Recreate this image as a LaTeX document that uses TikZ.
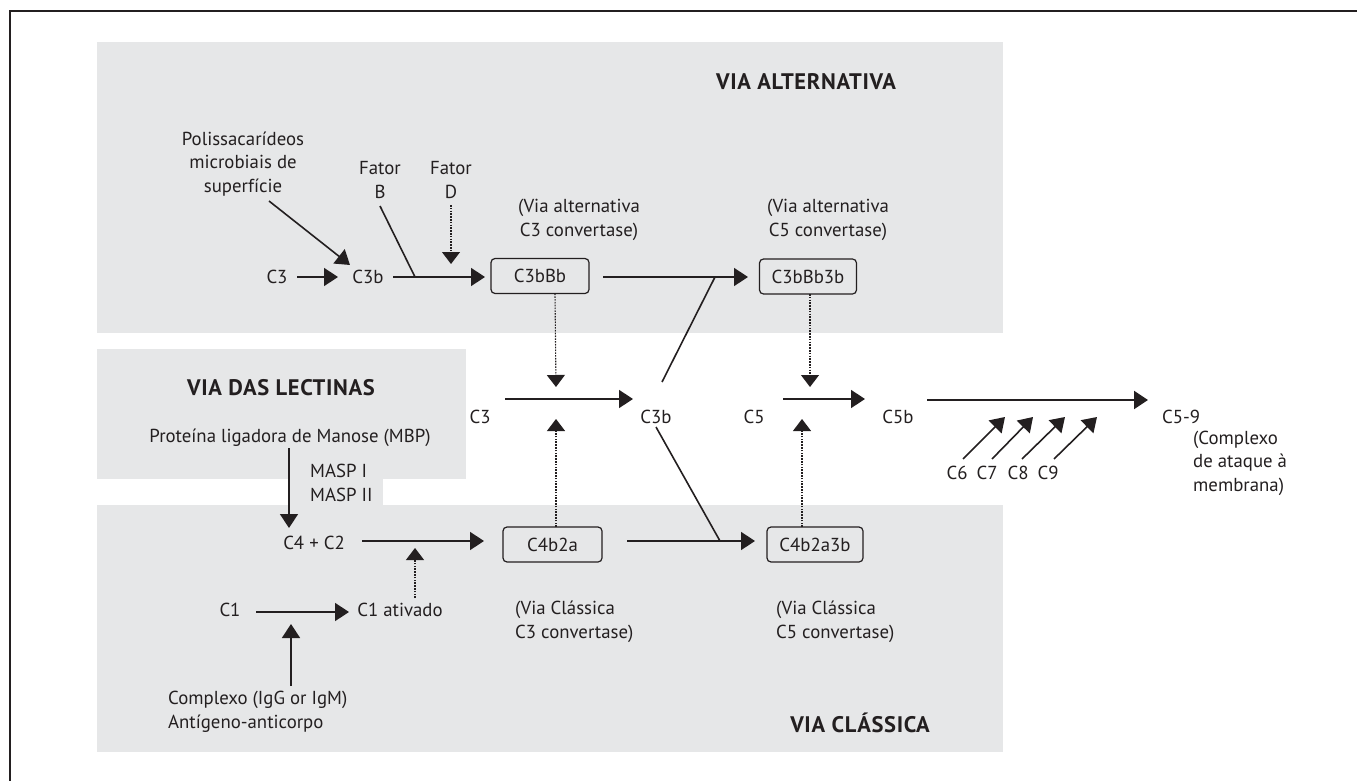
\documentclass[tikz,border=0pt]{standalone}
\usepackage{fontspec}
\setmainfont{PT Sans}
\newfontfamily\ttlfont[LetterSpace=3]{PT Sans Bold}
\usetikzlibrary{arrows.meta}
\definecolor{gfill}{HTML}{E6E7E8}
\definecolor{ink}{HTML}{231F20}
\begin{document}
\begin{tikzpicture}[x=1pt,y=-1pt,
  every node/.style={font=\fontsize{18.8}{23.5}\selectfont, text=ink, inner sep=0pt},
  lab/.style={text height=13.2pt, text depth=0pt},
  title/.style={font=\fontsize{22.5}{26}\selectfont\ttlfont, text height=15.7pt, text depth=0pt},
  cbox/.style={draw=ink, line width=1.2pt, rounded corners=4pt, minimum height=35pt, text height=13.2pt, text depth=0pt},
  ln/.style={draw=ink, line width=1.6pt},
  arr/.style={ln, -{Triangle[length=14pt,width=18pt]}},
  dot/.style={draw=ink, line width=1.1pt, dash pattern=on 1.6pt off 1.2pt},
  darr/.style={dot, -{Triangle[length=12pt,width=18pt]}}
]
\useasboundingbox (0,0) rectangle (1357,781);
% frame
\draw[ink, line width=2pt] (10,781) -- (10,11) -- (1357,11);
% gray areas
\fill[gfill] (97,42) rectangle (1003,333);
\fill[gfill] (97,349) rectangle (466,479);
\fill[gfill] (290,479) rectangle (383,505);
\fill[gfill] (97,505) rectangle (1003,752);

% ---- via alternativa
\node[title] (tAlt) at (806,82) {VIA ALTERNATIVA};
\node[align=center] (pol) at (243,164) {Polissacarídeos\\microbiais de\\superfície};
\node[align=center] (fB) at (380,180) {Fator\\B};
\node[align=center] (fD) at (451,180) {Fator\\D};
\node[align=center] (cv3) at (579,220) {(Via alternativa\\C3 convertase)};
\node[align=center] (cv5) at (828,220) {(Via alternativa\\C5 convertase)};
\node[lab] (c3a) at (277,277) {C3};
\node[lab] (c3b1) at (368,277) {C3b};
\node[cbox, minimum width=98pt] (bxA) at (540,276) {C3bBb};
\node[cbox, minimum width=97pt] (bxB) at (808,276.5) {C3bBb3b};

% ---- lectinas
\node[title] (tLec) at (281,388) {VIA DAS LECTINAS};
\node[lab] (mbp) at (290,436) {Proteína ligadora de Manose (MBP)};
\node[align=left, anchor=west] (masp) at (310,483) {MASP I\\MASP II};

% ---- middle row
\node[lab] (c3m) at (480,417) {C3};
\node[lab] (c3bm) at (656,417) {C3b};
\node[lab] (c5) at (754,417) {C5};
\node[lab] (c5b) at (898,417) {C5b};
\node[lab, anchor=west] (c59) at (1162,417) {C5-9};
\node[align=left, anchor=west] (cmplx) at (1193,463) {(Complexo\\de ataque à\\membrana)};
\node[lab] (c6) at (957,473) {C6};
\node[lab] (c7) at (987,473) {C7};
\node[lab] (c8) at (1018,473) {C8};
\node[lab] (c9) at (1048,473) {C9};

% ---- via classica
\node[lab] (c4c2) at (314,543) {C4 + C2};
\node[cbox, minimum width=99pt] (bxC) at (552.5,544.5) {C4b2a};
\node[cbox, minimum width=96pt] (bxD) at (815,544.5) {C4b2a3b};
\node[lab] (c1) at (230,610) {C1};
\node[lab] (c1a) at (400,610) {C1 ativado};
\node[align=left, anchor=west] (cvc3) at (515,622) {(Via Clássica\\C3 convertase)};
\node[align=left, anchor=west] (cvc5) at (776,622) {(Via Clássica\\C5 convertase)};
\node[align=left, anchor=west] (cplx) at (168,712) {Complexo (IgG or IgM)\\Antígeno-anticorpo};
\node[title] (tCla) at (860,725) {VIA CLÁSSICA};

% ---- junction coordinates
\coordinate (jB) at (415,277);
\coordinate (jD) at (451,264);
\coordinate (sA) at (603,277);
\coordinate (eA) at (748,277);
\coordinate (jA5) at (715,277);
\coordinate (sC) at (627,541);
\coordinate (eC) at (755,541);
\coordinate (jC5) at (720,541);
\coordinate (jm3d) at (556,387);
\coordinate (jm3u) at (556,419);
\coordinate (jm5d) at (810,387);
\coordinate (jm5u) at (802,419);
\coordinate (jc1) at (291,624);
\coordinate (jc4) at (415,548);
\coordinate (t6) at (1005,417);
\coordinate (t7) at (1033,417);
\coordinate (t8) at (1065,417);
\coordinate (t9) at (1097,417);

% ---- connectors: via alternativa
\draw[arr] (297,277) -- (338,277);
\draw[arr] (393,277) -- (485,277);
\draw[arr] (269,201) -- (350,265);
\draw[ln] (380,206) -- (jB);
\draw[darr] (451,205) -- (jD);
\draw[arr] (sA) -- (eA);
\draw[ln] (662,382) -- (jA5);
\draw[darr] (555,293.5) -- (jm3d);
\draw[darr] (810,294) -- (jm5d);

% ---- middle row
\draw[arr] (505,399) -- (633,399);
\draw[arr] (783,399) -- (865,399);
\draw[ln, line width=2pt, -{Triangle[length=14pt,width=18pt]}] (927,400) -- (1148,400);
\draw[arr] (963,459) -- (t6);
\draw[arr] (992,459) -- (t7);
\draw[arr] (1022,459) -- (t8);
\draw[arr] (1054,459) -- (t9);
\draw[ln] (656,427) -- (jC5);

% ---- via classica
\draw[arr] (289,448) -- (289,528);
\draw[arr] (362,541) -- (484,541);
\draw[arr] (sC) -- (eC);
\draw[darr] (556,527) -- (jm3u);
\draw[darr] (802,527) -- (jm5u);
\draw[darr] (415,598) -- (jc4);
\draw[arr] (256,612) -- (349,612);
\draw[arr] (291,686) -- (jc1);
\end{tikzpicture}
\end{document}
